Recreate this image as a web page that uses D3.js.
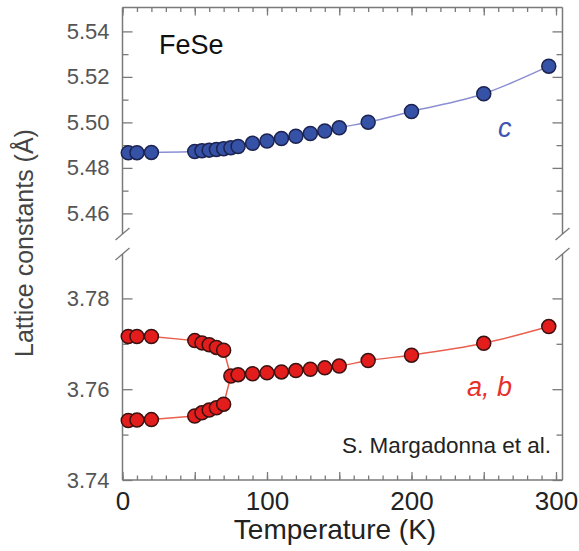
<!DOCTYPE html>
<html>
<head>
<meta charset="utf-8">
<script src="https://cdn.jsdelivr.net/npm/d3@7"></script>
<style>
  body { margin: 0; background: #fff; }
  text { font-family: "Liberation Sans", Arial, sans-serif; }
</style>
</head>
<body>
<svg id="chart" width="579" height="551"></svg>
<script>
// low temperature: orthorhombic split of a and b
var tempSplit = [4, 10, 20, 50, 55, 60, 65, 70];
var aUpper = [3.7716, 3.7716, 3.7716, 3.7707, 3.7702, 3.7698, 3.7692, 3.7686];
var bLower = [3.7531, 3.7532, 3.7533, 3.7541, 3.7548, 3.7554, 3.7559, 3.7567];
// tetragonal a = b
var tempTetra = [75, 80, 90, 100, 110, 120, 130, 140, 150, 170, 200, 250, 295];
var abTetra = [3.7629, 3.7632, 3.7634, 3.7636, 3.7638, 3.7641, 3.7644, 3.7647, 3.7651, 3.7663, 3.7675, 3.7701, 3.7738];
// c axis
var tempC = [4, 10, 20, 50, 55, 60, 65, 70, 75, 80, 90, 100, 110, 120, 130, 140, 150, 170, 200, 250, 295];
var cValues = [5.4866, 5.4867, 5.4868, 5.4872, 5.4875, 5.4878, 5.4881, 5.4884, 5.4888, 5.4894, 5.4908, 5.4918, 5.4929, 5.4939, 5.4951, 5.4962, 5.4976, 5.5001, 5.5048, 5.5126, 5.5247];

var xTicks = [0, 100, 200, 300];
var cTicks = [5.46, 5.48, 5.50, 5.52, 5.54];
var abTicks = [3.74, 3.76, 3.78];

var svg = d3.select("#chart");
var plotLeft = 122.5, plotRight = 562.5, plotTop = 7.5, plotBottom = 480;

var x = d3.scaleLinear().domain([0, 304.5]).range([plotLeft, plotRight]);
var yTop = d3.scaleLinear().domain([5.4505, 5.5505]).range([235, plotTop]);
var yBot = d3.scaleLinear().domain([3.74, 3.79]).range([plotBottom, 253]);

var frameColor = "#7a7a7a";

// ---- x axes (bottom + top mirror), ticks pointing inward
var xMinor = d3.range(0, 301, 10), xMajor = d3.range(0, 301, 50);
[[d3.axisBottom, plotBottom], [d3.axisTop, plotTop]].forEach(function(s) {
  var g1 = svg.append("g").attr("transform", "translate(0," + s[1] + ")")
    .call(s[0](x).tickValues(xMinor).tickSize(-4.5).tickFormat(""));
  var g2 = svg.append("g").attr("transform", "translate(0," + s[1] + ")")
    .call(s[0](x).tickValues(xMajor).tickSize(-8).tickFormat(""));
  [g1, g2].forEach(function(g) {
    g.select(".domain").remove();
    g.selectAll("line").attr("stroke", frameColor).attr("stroke-width", 1.3);
  });
});

svg.append("g").attr("transform", "translate(0," + plotBottom + ")")
  .call(d3.axisBottom(x).tickValues(xTicks).tickSize(0).tickPadding(12))
  .call(function(g) { g.select(".domain").remove(); })
  .selectAll("text")
    .attr("font-size", 26)
    .attr("fill", "#222")
    .style("font-family", "Liberation Sans, Arial, sans-serif");

// ---- y axes for both panels
function yAxes(scale, major, minor) {
  [[d3.axisLeft, plotLeft], [d3.axisRight, plotRight]].forEach(function(s) {
    var gMin = svg.append("g").attr("transform", "translate(" + s[1] + ",0)")
      .call(s[0](scale).tickValues(minor).tickSize(-6).tickFormat(""));
    var gMaj = svg.append("g").attr("transform", "translate(" + s[1] + ",0)")
      .call(s[0](scale).tickValues(major).tickSize(-10).tickFormat(""));
    [gMin, gMaj].forEach(function(g) {
      g.select(".domain").remove();
      g.selectAll("line").attr("stroke", frameColor).attr("stroke-width", 1.3);
    });
  });
  svg.append("g").attr("transform", "translate(" + plotLeft + ",0)")
    .call(d3.axisLeft(scale).tickValues(major).tickSize(0).tickPadding(13).tickFormat(d3.format(".2f")))
    .call(function(g) { g.select(".domain").remove(); })
    .selectAll("text")
      .attr("font-size", 22)
      .attr("fill", "#555")
      .style("font-family", "Liberation Sans, Arial, sans-serif");
}
yAxes(yTop, cTicks, [5.47, 5.49, 5.51, 5.53]);
yAxes(yBot, abTicks, [3.75, 3.77]);

// ---- frame with axis break
var gapTop = yTop.range()[0], gapBot = yBot.range()[1];
var frame = svg.append("g").attr("fill", "none").attr("stroke", frameColor).attr("stroke-width", 1.5);
frame.append("line").attr("x1", plotLeft).attr("x2", plotRight).attr("y1", plotTop).attr("y2", plotTop);
frame.append("line").attr("x1", plotLeft).attr("x2", plotRight).attr("y1", plotBottom).attr("y2", plotBottom);
[plotLeft, plotRight].forEach(function(xx) {
  frame.append("line").attr("x1", xx).attr("x2", xx).attr("y1", plotTop).attr("y2", gapTop - 1);
  frame.append("line").attr("x1", xx).attr("x2", xx).attr("y1", gapBot + 1).attr("y2", plotBottom);
  [gapTop - 1, gapBot + 1].forEach(function(yy) {
    frame.append("line")
      .attr("x1", xx - 7).attr("y1", yy + 6)
      .attr("x2", xx + 7).attr("y2", yy - 6)
      .attr("stroke-width", 1.3);
  });
});

// ---- lines
var lineTop = d3.line().x(function(d) { return x(d[0]); }).y(function(d) { return yTop(d[1]); })
  .curve(d3.curveMonotoneX);
var lineBot = d3.line().x(function(d) { return x(d[0]); }).y(function(d) { return yBot(d[1]); });

var cPts = tempC.map(function(t, i) { return [t, cValues[i]]; });
var upPts = tempSplit.map(function(t, i) { return [t, aUpper[i]]; });
var loPts = tempSplit.map(function(t, i) { return [t, bLower[i]]; });
var tetPts = tempTetra.map(function(t, i) { return [t, abTetra[i]]; });

svg.append("path").datum(cPts).attr("d", lineTop)
  .attr("fill", "none").attr("stroke", "#8b8fd2").attr("stroke-width", 1.5);

[upPts.concat([tetPts[0]]), loPts.concat([tetPts[0]])].forEach(function(pts) {
  svg.append("path").datum(pts).attr("d", lineBot)
    .attr("fill", "none").attr("stroke", "#e9604f").attr("stroke-width", 1.5);
});
svg.append("path").datum(tetPts).attr("d", lineBot.curve(d3.curveMonotoneX))
  .attr("fill", "none").attr("stroke", "#e9604f").attr("stroke-width", 1.5);

// ---- markers
svg.append("g").selectAll("circle")
  .data(cPts)
  .enter().append("circle")
    .attr("cx", function(d) { return x(d[0]); })
    .attr("cy", function(d) { return yTop(d[1]); })
    .attr("r", 7)
    .attr("fill", "#3552a6")
    .attr("stroke", "#1c2350")
    .attr("stroke-width", 1.5);

svg.append("g").selectAll("circle")
  .data(upPts.concat(loPts).concat(tetPts))
  .enter().append("circle")
    .attr("cx", function(d) { return x(d[0]); })
    .attr("cy", function(d) { return yBot(d[1]); })
    .attr("r", 7)
    .attr("fill", "#e31d1c")
    .attr("stroke", "#3a1212")
    .attr("stroke-width", 1.5);

// ---- labels
svg.append("text").attr("x", 159).attr("y", 54).attr("font-size", 27).attr("fill", "#111").text("FeSe");
svg.append("text").attr("x", 498).attr("y", 137).attr("font-size", 27).attr("font-style", "italic")
  .attr("fill", "#3d55b0").text("c");
svg.append("text").attr("x", 467).attr("y", 396).attr("font-size", 27).attr("font-style", "italic")
  .attr("fill", "#e8302a").text("a, b");
svg.append("text").attr("x", 551).attr("y", 453).attr("font-size", 22.5).attr("text-anchor", "end")
  .attr("fill", "#222").text("S. Margadonna et al.");

svg.append("text")
  .attr("transform", "translate(33,243) rotate(-90)")
  .attr("text-anchor", "middle")
  .attr("font-size", 25)
  .attr("fill", "#444")
  .text("Lattice constants (Å)");

svg.append("text")
  .attr("x", 335).attr("y", 539)
  .attr("text-anchor", "middle")
  .attr("font-size", 28)
  .attr("fill", "#222")
  .text("Temperature (K)");
</script>
</body>
</html>
